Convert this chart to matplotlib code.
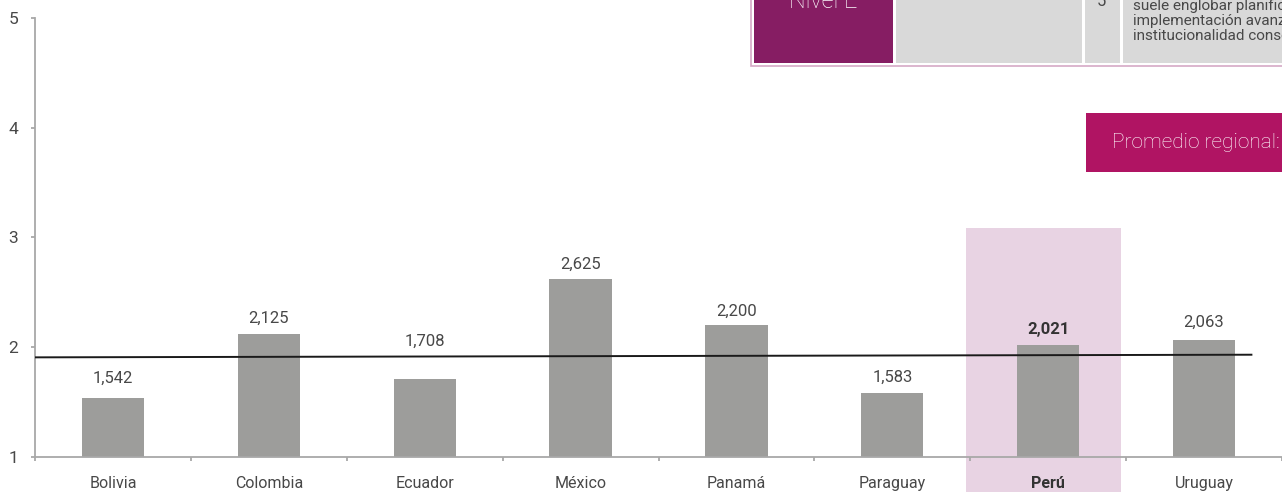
import matplotlib
matplotlib.use("Agg")
import matplotlib.pyplot as plt
from matplotlib.patches import Rectangle
from matplotlib import transforms

plt.rcParams['font.family'] = ['Roboto', 'DejaVu Sans']

# ---- data ----
countries = ["Bolivia", "Colombia", "Ecuador", "México", "Panamá", "Paraguay", "Perú", "Uruguay"]
scores = [1.542, 2.125, 1.708, 2.625, 2.200, 1.583, 2.021, 2.063]
value_labels = ["1,542", "2,125", "1,708", "2,625", "2,200", "1,583", "2,021", "2,063"]
highlight = "Perú"
trend_y = [1.908, 1.932]          # reference line (start, end)
y_ticks = [1, 2, 3, 4, 5]
table_level = "Nivel E"
table_score = "5"
table_text = ["suele englobar planificación,",
              "implementación avanzada e",
              "institucionalidad consolidada."]
promedio_text = "Promedio regional: 1,984"

# ---- style ----
W, H = 1282, 492
fig = plt.figure(figsize=(W / 100, H / 100), dpi=100)
ax = fig.add_axes([35 / W, (H - 457) / H, (1282 - 35) / W, (457 - 18) / H])
ax.set_facecolor('none')

bar_color = "#9d9d9b"
text_color = "#484848"
spine_color = "#a8a8a8"

x = list(range(len(countries)))
hi = countries.index(highlight)

ax.set_xlim(-0.5, len(countries) - 0.5)
ax.set_ylim(1, 5)

fig_x_tr = transforms.blended_transform_factory(ax.transData, fig.transFigure)

# highlight band (extends below the axis to the figure bottom)
ax.add_patch(Rectangle((hi - 0.53, 0), 1.0, 1 - 228 / H, transform=fig_x_tr,
                       facecolor="#e8d3e3", edgecolor='none', zorder=0, clip_on=False))

ax.bar(x, [s - 1 for s in scores], bottom=1, width=0.4, color=bar_color, zorder=2)

# reference line
ax.plot([-0.5, 7.31], trend_y, color="#1a1a1a", lw=1.4, zorder=3, solid_capstyle='butt')

# value labels
offsets = [14, 11, 27, 10, 10, 11, 11, 13]
for i, (s, lab) in enumerate(zip(scores, value_labels)):
    ax.annotate(lab, (i, s), xytext=(0, offsets[i]), textcoords='offset points',
                ha='center', va='center', fontsize=12,
                color="#333333" if i == hi else text_color,
                fontweight='bold' if i == hi else 'normal', zorder=4)

# axes styling
for side in ['top', 'right']:
    ax.spines[side].set_visible(False)
for side in ['left', 'bottom']:
    ax.spines[side].set_color(spine_color)
    ax.spines[side].set_linewidth(1.3)

ax.set_yticks(y_ticks)
ax.set_yticklabels([str(t) for t in y_ticks], fontsize=12.5, color=text_color)
ax.tick_params(axis='y', length=3, width=1.3, color=spine_color, pad=9)

ax.set_xticks([i - 0.5 for i in range(len(countries) + 1)])
ax.set_xticklabels([])
ax.tick_params(axis='x', length=3, width=1.3, color=spine_color)
for i, c in enumerate(countries):
    ax.text(i, 1 - 488 / H, c, transform=fig_x_tr, ha='center', va='baseline',
            fontsize=11.5, color="#333333" if i == hi else text_color,
            fontweight='bold' if i == hi else 'normal', clip_on=False)

# ---- table fragment (top right) ----
def fig_rect(x0, y0, x1, y1, **kw):
    fig.patches.append(Rectangle((x0 / W, 1 - y1 / H), (x1 - x0) / W, (y1 - y0) / H,
                                 transform=fig.transFigure, figure=fig, **kw))

fig_rect(751, -40, 1300, 66, facecolor='white', edgecolor="#d5a9c6", lw=1.2)
fig_rect(754, -40, 893, 63, facecolor="#861d63", edgecolor='none')
fig_rect(896, -40, 1082, 63, facecolor="#d9d9d9", edgecolor='none')
fig_rect(1085, -40, 1120, 63, facecolor="#d9d9d9", edgecolor='none')
fig_rect(1123, -40, 1300, 63, facecolor="#d9d9d9", edgecolor='none')

fig.text(823 / W, 1 - 8 / H, table_level, ha='center', va='baseline', fontsize=17,
         color='white', fontweight='light')
fig.text(1101 / W, 1 - 6 / H, table_score, ha='center', va='baseline', fontsize=12,
         color=text_color)
for k, line in enumerate(table_text):
    fig.text(1133 / W, 1 - (10 + 15 * k) / H, line, ha='left', va='baseline',
             fontsize=11, color=text_color)

# ---- promedio box ----
fig_rect(1086, 113, 1300, 172, facecolor="#b01463", edgecolor='none')
fig.text(1112 / W, 1 - 143 / H, promedio_text, ha='left', va='center', fontsize=15,
         color='white', fontweight='light')

fig.savefig("out.png", dpi=100)
